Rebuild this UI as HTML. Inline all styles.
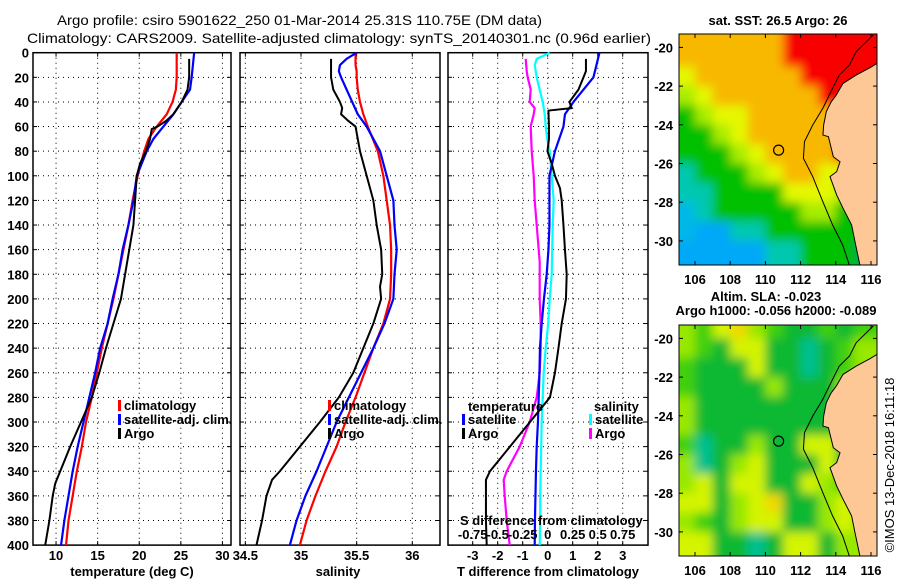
<!DOCTYPE html>
<html><head><meta charset="utf-8"><style>
html,body{margin:0;padding:0;background:#fff;}
svg{display:block;font-family:"Liberation Sans",Arial,sans-serif;}
.t{font-size:13px;font-weight:bold;fill:#000;}
.ti{font-size:14px;fill:#000;}
</style></head><body>
<svg id="c" width="900" height="580" viewBox="0 0 900 580" xmlns="http://www.w3.org/2000/svg">
<defs><filter id="blur" x="-10%" y="-10%" width="120%" height="120%"><feGaussianBlur stdDeviation="5"/></filter></defs>
<text class="ti" x="57" y="25" textLength="485" lengthAdjust="spacingAndGlyphs">Argo profile: csiro 5901622_250 01-Mar-2014 25.31S 110.75E (DM data)</text>
<text class="ti" x="27" y="43" textLength="624" lengthAdjust="spacingAndGlyphs">Climatology: CARS2009. Satellite-adjusted climatology: synTS_20140301.nc (0.96d earlier)</text>
<text class="t" x="778" y="25" text-anchor="middle">sat. SST: 26.5 Argo: 26</text>
<text class="t" x="766" y="301" text-anchor="middle">Altim. SLA: -0.023</text>
<text class="t" x="776" y="315" text-anchor="middle">Argo h1000: -0.056 h2000: -0.089</text>
<text class="t" transform="translate(894,465) rotate(-90)" text-anchor="middle" style="font-weight:normal">©IMOS 13-Dec-2018 16:11:18</text>
<g id="g"></g>
</svg>
<script>
// ---------- data ----------
const depthTicks=[0,20,40,60,80,100,120,140,160,180,200,220,240,260,280,300,320,340,360,380,400];
const tempTicks=[10,15,20,25,30];
const salTicks=[34.5,35,35.5,36];
const tdiffTicks=[-3,-2,-1,0,1,2,3];
const sdiffTickLabels=["-0.75","-0.5","-0.25","0","0.25","0.5","0.75"];
const sdiffTickValues=[-0.75,-0.5,-0.25,0,0.25,0.5,0.75];

const climDepth=[0,20,30,40,50,60,70,80,100,120,140,160,180,200,220,240,260,280,300,320,340,360,380,400];
const climTemp=[24.5,24.5,24.4,24.0,23.3,22.1,21.1,20.6,19.8,19.2,18.7,18.1,17.5,16.9,16.2,15.5,14.9,14.3,13.6,13.1,12.5,12.0,11.5,11.2];
const satTemp=[26.6,26.3,26.1,25.1,24.1,22.9,21.7,20.9,19.7,19.3,18.7,18.0,17.5,16.8,16.2,15.3,14.7,14.0,13.3,12.6,12.0,11.5,11.0,10.6];
const argoDepth=[5,20,30,40,50,55,60,62,70,80,90,100,120,140,160,180,200,220,240,260,280,300,320,340,350,360,380,400];
const argoTemp=[26.0,26.0,25.8,25.1,24.1,23.3,22.2,21.5,21.3,20.8,20.1,19.7,19.5,19.3,18.8,18.3,17.8,16.9,16.0,15.2,14.3,13.0,11.7,10.5,9.9,9.6,9.2,8.7];

const salDepth=[0,5,10,15,20,30,40,50,60,80,100,120,140,160,180,200,220,240,260,280,300,320,340,360,380,400];
const climSal=[35.49,35.49,35.49,35.5,35.5,35.51,35.53,35.56,35.6,35.69,35.74,35.77,35.8,35.81,35.81,35.8,35.74,35.65,35.57,35.49,35.4,35.32,35.22,35.13,35.05,34.99];
const satSal=[35.5,35.41,35.35,35.34,35.36,35.41,35.46,35.51,35.59,35.71,35.77,35.83,35.84,35.86,35.84,35.83,35.75,35.65,35.54,35.43,35.32,35.23,35.14,35.04,34.96,34.9];
const argoSalDepth=[5,20,30,40,45,50,55,60,80,100,120,140,160,180,190,200,220,240,260,280,300,320,340,347,360,380,400];
const argoSal=[35.27,35.27,35.29,35.35,35.37,35.36,35.42,35.49,35.53,35.59,35.65,35.68,35.72,35.73,35.71,35.72,35.65,35.56,35.47,35.34,35.17,34.99,34.81,34.74,34.69,34.65,34.6];

const tdDepth=[0,20,40,50,60,80,100,120,140,160,180,200,220,240,260,280,300,320,340,360,380,400];
const satTdiff=[2.07,1.83,1.03,0.69,0.63,0.29,0.07,0.07,0.07,0.03,-0.04,-0.15,-0.24,-0.31,-0.33,-0.36,-0.39,-0.44,-0.47,-0.49,-0.51,-0.52];
const argoTdDepth=[5,15,20,30,40,45,47,60,70,80,90,100,110,120,140,160,180,200,220,240,260,280,290,300,320,340,347,360,380,400];
const argoTdiff=[1.53,1.53,1.43,1.23,0.87,0.96,0.03,0.05,0.05,-0.01,0.16,0.29,0.49,0.56,0.63,0.69,0.76,0.73,0.56,0.43,0.29,0.09,-0.31,-0.71,-1.51,-2.31,-2.47,-2.47,-2.47,-2.44];
const sdDepth=[0,5,10,20,30,40,50,60,70,80,100,120,140,160,180,200,220,240,260,280,300,320,340,360,380,400];
const satSdiff=[0.02,-0.11,-0.13,-0.11,-0.08,-0.05,-0.03,-0.02,-0.005,0.02,0.04,0.06,0.05,0.045,0.04,0.02,0.005,-0.02,-0.04,-0.05,-0.06,-0.065,-0.07,-0.075,-0.075,-0.08];
const argoSdDepth=[5,15,20,30,40,45,50,60,80,100,120,140,160,170,180,200,220,240,260,280,300,320,340,347,360,380,400];
const argoSdiff=[-0.22,-0.21,-0.2,-0.17,-0.18,-0.13,-0.14,-0.17,-0.16,-0.14,-0.13,-0.11,-0.09,-0.08,-0.08,-0.08,-0.07,-0.07,-0.08,-0.11,-0.18,-0.28,-0.41,-0.44,-0.43,-0.41,-0.38];

const lonTicks=[106,108,110,112,114,116];
const latTicks=[-20,-22,-24,-26,-28,-30];
const floatLon=110.75, floatLat=-25.31;
// map grids: 1-degree cells, lon 105..117 (cols), lat -19..-32 (rows)
const sstGrid=["oooooorrrrrr","oooooorrrrrr","yoooooorrrrr","lyoooooorrrr","glyyooooooor","gglyoooooorr","ggglyoooorrr","tggglyooyygg","ttggggyyylgg","ctgggggllggg","cbbttggggggg","bbbbbttgggdd","bbbbbttgggdd"];
const slaGrid=["lgyolgGGgGgg","lgGyyGGtGgll","gGGGyGGtGgll","gGGGGlGGGlyl","lGGGGGGGGyyl","lGGGGGGGGlyl","gtGGlGGyyGll","ltGlyGGGyGll","lyGyyGGylgll","yyGlyoGGlyll","lgGlyyGGlyll","yyGGtGyyGlll","yyGGtGyyGlll"];
const coastLon=[116.36,115.94,115.16,114.41,114.03,113.74,113.46,113.31,113.27,113.58,113.86,114.24,114.05,113.67,114.05,114.41,114.9,115.09,115.37];
const coastLat=[-20.82,-21.05,-21.43,-21.86,-22.46,-22.81,-23.32,-24.01,-24.53,-24.61,-25.65,-25.91,-26.42,-26.68,-27.63,-28.31,-29.18,-30.04,-31.25];
const isoLon=[116.13,115.16,114.78,114.2,113.82,113.26,112.69,112.22,112.16,112.69,113.26,113.82,114.39,114.77];
const isoLat=[-19.36,-20.22,-20.91,-21.43,-22.11,-23.15,-24.01,-24.87,-25.73,-26.68,-27.97,-29.18,-30.21,-31.25];

// ---------- helpers ----------
const NS="http://www.w3.org/2000/svg";
const root=document.getElementById('g');
function mk(tag,attrs,parent){const e=document.createElementNS(NS,tag);for(const k in attrs)e.setAttribute(k,attrs[k]);(parent||root).appendChild(e);return e;}
const yD=d=>52.7+d*1.231;
const Y0=52.7,Y1=545.1;
const xT=t=>33+(t-7.23)*8.32;
const xS=s=>301+(s-35)*111.3;
const xTd=t=>547.7+t*25;
const xSd=s=>547.7+s*100;
const mapX=lon=>695+(lon-106)*17.6;
const mapY=(lat,off)=>47.4+off+(-20-lat)*19.35;

function panel(x0,x1,name,xticks,xfun,labels){
  const g=mk('g',{});
  
  
  depthTicks.forEach(d=>{const l=mk('line',{x1:x0,x2:x1,y1:yD(d),y2:yD(d),stroke:'#000','stroke-width':1,'stroke-dasharray':'1,4'},g);
    
    mk('line',{x1:x0,x2:x0+4,y1:yD(d),y2:yD(d),stroke:'#000'},g);mk('line',{x1:x1-4,x2:x1,y1:yD(d),y2:yD(d),stroke:'#000'},g);});
  xticks.forEach((v,i)=>{const x=xfun(v);
    const l=mk('line',{x1:x,x2:x,y1:Y0,y2:Y1,stroke:'#000','stroke-width':1,'stroke-dasharray':'1,4'},g);
    
    mk('line',{x1:x,x2:x,y1:Y1-4,y2:Y1,stroke:'#000'},g);mk('line',{x1:x,x2:x,y1:Y0,y2:Y0+4,stroke:'#000'},g);
    const t=mk('text',{x:x,y:560,'text-anchor':'middle',class:'t'},g);t.textContent=labels[i];
    });
  const r=mk('rect',{x:x0,y:Y0,width:x1-x0,height:Y1-Y0,fill:'none',stroke:'#000','stroke-width':1.5},g);
  
  return g;
}
function series(g,xs,ds,xf,color,w,name){
  const p=mk('polyline',{points:xs.map((v,i)=>xf(v)+','+yD(ds[i])).join(' '),fill:'none',stroke:color,'stroke-width':w,'stroke-linejoin':'round'},g);
  
}
function txt(x,y,s,name,anchor,g){const t=mk('text',{x:x,y:y,class:'t','text-anchor':anchor||'start'},g);t.textContent=s;
  return t;}
function legend(x,y,color,label,name){const g=mk('g',{});
  mk('rect',{x:x,y:y-10,width:3,height:11,fill:color},g);txt(x+6,y,label,'legend-label','start',g);}

// depth labels
depthTicks.forEach(d=>{txt(29,yD(d)+5,String(d),'y-tick-label','end');});

// panel 1
const p1=panel(33,231,'temperature-panel',tempTicks,xT,tempTicks.map(String));
series(p1,climTemp,climDepth,xT,'#ff0000',2.2,'climatology-temp-line');
series(p1,satTemp,climDepth,xT,'#0000ff',2.2,'satellite-temp-line');
series(p1,argoTemp,argoDepth,xT,'#000',2,'argo-temp-line');
txt(132,576,'temperature (deg C)','temperature-axis-title','middle');
legend(118,410,'#ff0000','climatology','legend-climatology');
legend(118,424,'#0000ff','satellite-adj. clim.','legend-satellite');
legend(118,438,'#000','Argo','legend-argo');

// panel 2
const p2=panel(240,440,'salinity-panel',salTicks,xS,["34.5","35","35.5","36"]);
series(p2,climSal,salDepth,xS,'#ff0000',2.2,'climatology-sal-line');
series(p2,satSal,salDepth,xS,'#0000ff',2.2,'satellite-sal-line');
series(p2,argoSal,argoSalDepth,xS,'#000',2,'argo-sal-line');
txt(338,576,'salinity','salinity-axis-title','middle');
legend(328,410,'#ff0000','climatology','legend-climatology');
legend(328,424,'#0000ff','satellite-adj. clim.','legend-satellite');
legend(328,438,'#000','Argo','legend-argo');

// panel 3
const p3=panel(448,648,'difference-panel',tdiffTicks,xTd,tdiffTicks.map(String));
series(p3,satSdiff,sdDepth,xSd,'#00ffff',2.2,'satellite-sdiff-line');
series(p3,argoSdiff,argoSdDepth,xSd,'#ff00ff',2.2,'argo-sdiff-line');
series(p3,satTdiff,tdDepth,xTd,'#0000ff',2.2,'satellite-tdiff-line');
series(p3,argoTdiff,argoTdDepth,xTd,'#000',2,'argo-tdiff-line');
txt(548,576,'T difference from climatology','tdiff-axis-title','middle');
txt(460,525,'S difference from climatology','sdiff-axis-title','start');
sdiffTickValues.forEach((v,i)=>{txt(xSd(v),539,sdiffTickLabels[i],'sdiff-tick-label','middle');});
txt(468,411,'temperature','legend-temperature-heading');
txt(594,411,'salinity','legend-salinity-heading');
legend(462,424,'#0000ff','satellite','legend-t-satellite');
legend(462,438,'#000','Argo','legend-t-argo');
legend(589,424,'#00ffff','satellite','legend-s-satellite');
legend(589,438,'#ff00ff','Argo','legend-s-argo');

// maps
const sstCol={r:'#f80000',o:'#f8b800',y:'#e4f800',l:'#a8ec00',g:'#00c000',d:'#00b040',t:'#00c8b0',c:'#00b8e8',b:'#00a8f8'};
const slaCol={G:'#10b830',g:'#40d010',l:'#98e800',y:'#d4f400',o:'#f0d800',t:'#00c090'};
function map(off,grid,cols,name){
  const top=34+off,bot=265+off;const g=mk('g',{});
  const cid='clip'+off;const cp=mk('clipPath',{id:cid},g);mk('rect',{x:679,y:top,width:198,height:bot-top},cp);
  const inner=mk('g',{'clip-path':'url(#'+cid+')'},g);
  const field=mk('g',{filter:'url(#blur)'},inner);
  grid.forEach((row,r)=>{for(let c=0;c<row.length;c++){
    const x=mapX(105+c),y=mapY(-19-r,off);
    const cell=mk('rect',{x:x-(c===0?20:0),y:y-(r===0?20:0),width:17.9+(c===0?20:0)+(c===row.length-1?20:0),height:19.7+(r===0?20:0)+(r===grid.length-1?20:0),fill:cols[row[c]]},field);
    }});
  let pts=coastLon.map((v,i)=>mapX(v)+','+mapY(coastLat[i],off));
  pts=pts.concat([mapX(117)+','+mapY(-31.5,off),mapX(117)+','+mapY(-20.82,off)]);
  const land=mk('polygon',{points:pts.join(' '),fill:'#fdc896',stroke:'#000','stroke-width':1},inner);
  
  const iso=mk('polyline',{points:isoLon.map((v,i)=>mapX(v)+','+mapY(isoLat[i],off)).join(' '),fill:'none',stroke:'#000','stroke-width':1},inner);
  
  const fl=mk('circle',{cx:mapX(floatLon),cy:mapY(floatLat,off),r:5,fill:'none',stroke:'#000','stroke-width':1.2},g);
  
  mk('rect',{x:679,y:top,width:198,height:bot-top,fill:'none',stroke:'#000','stroke-width':1},g);
  lonTicks.forEach(v=>{const x=mapX(v);mk('line',{x1:x,x2:x,y1:top,y2:top+4,stroke:'#000'},g);mk('line',{x1:x,x2:x,y1:bot-4,y2:bot,stroke:'#000'},g);
    txt(x,bot+19,String(v),'lon-tick-label','middle',g);});
  latTicks.forEach(v=>{const y=mapY(v,off);mk('line',{x1:679,x2:683,y1:y,y2:y,stroke:'#000'},g);mk('line',{x1:873,x2:877,y1:y,y2:y,stroke:'#000'},g);
    txt(673,y+5,String(v),'lat-tick-label','end',g);});
}
map(0,sstGrid,sstCol,'sst-map');
map(291,slaGrid,slaCol,'sla-map');
</script>
</body></html>
